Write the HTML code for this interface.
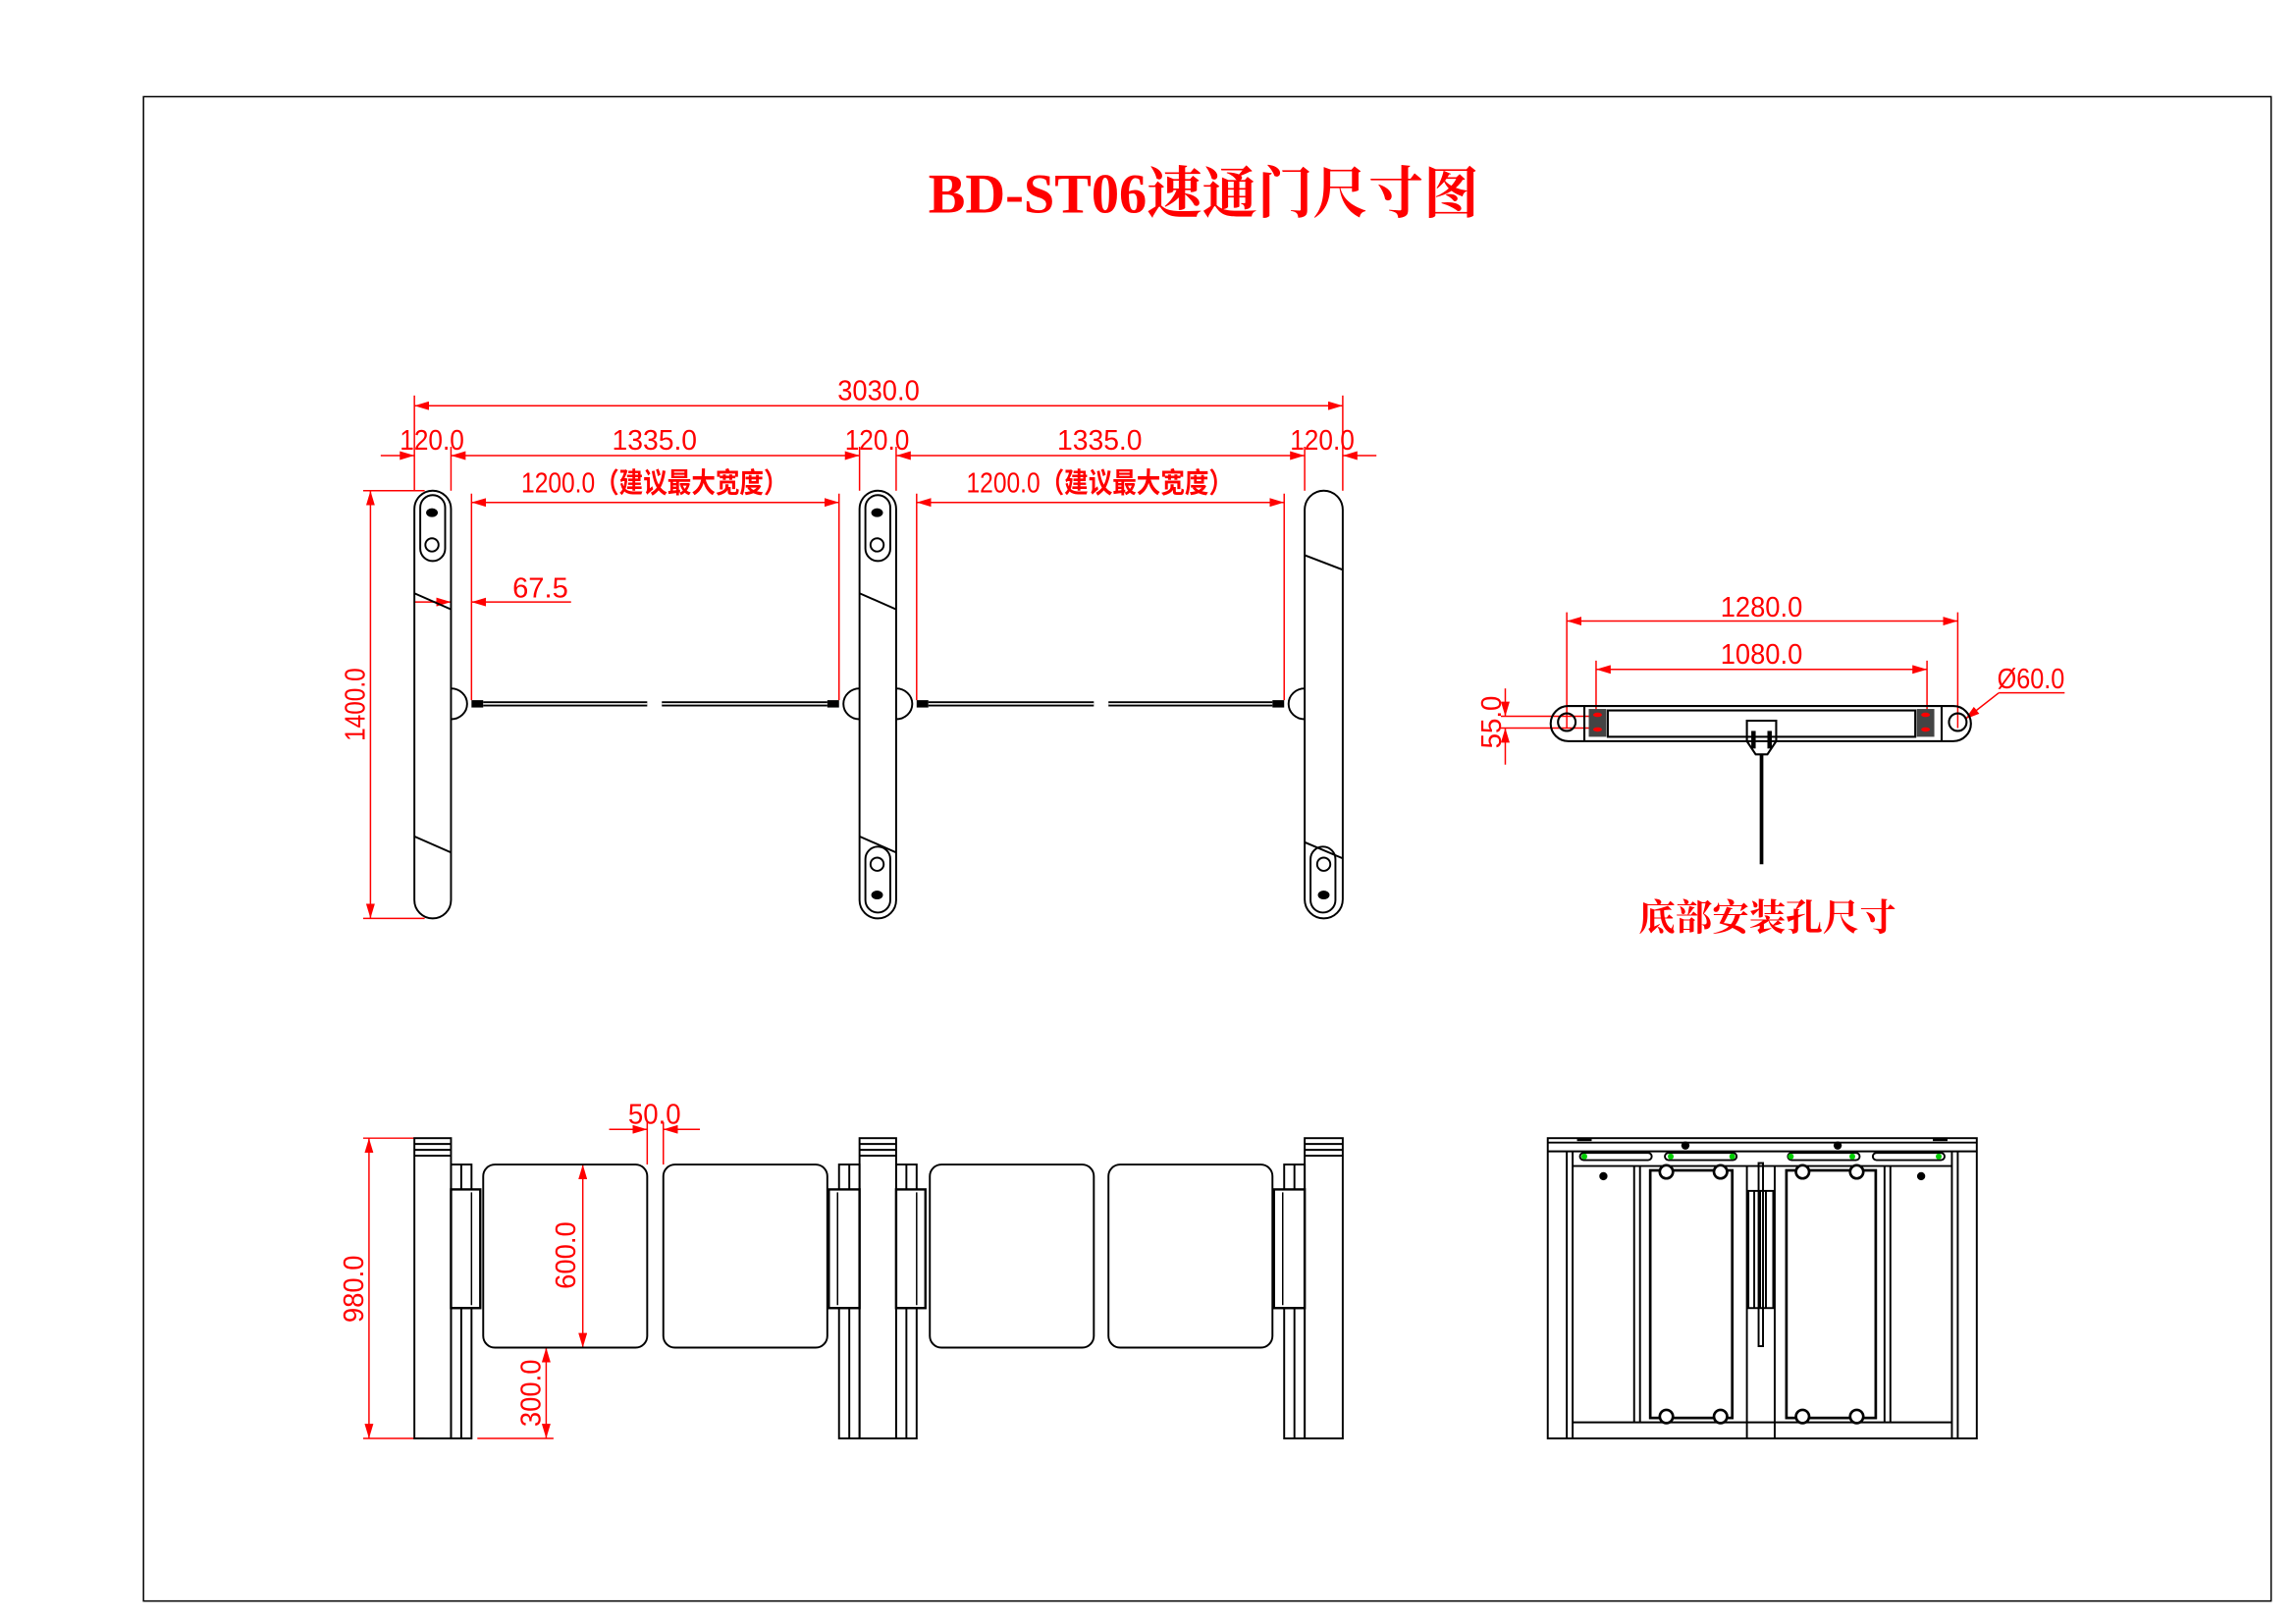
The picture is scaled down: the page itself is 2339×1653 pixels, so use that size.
<!DOCTYPE html>
<html><head><meta charset="utf-8"><style>html,body{margin:0;padding:0;background:#fff}svg{display:block}</style></head><body>
<svg width="2339" height="1653" viewBox="0 0 1568 1108" preserveAspectRatio="none" xmlns="http://www.w3.org/2000/svg">
<defs>
<marker id="a" viewBox="0 0 10 6" refX="10" refY="3" markerWidth="10" markerHeight="6" orient="auto-start-reverse" markerUnits="userSpaceOnUse"><path d="M0,0L10,3L0,6z" fill="#f00"/></marker>
</defs>
<rect x="98" y="66" width="1453" height="1027" fill="none" stroke="#000" stroke-width="1"/>
<text x="822" y="145" text-anchor="middle" font-family="'Liberation Serif','Noto Serif CJK SC',serif" font-weight="bold" font-size="38" fill="#f00" textLength="376" lengthAdjust="spacingAndGlyphs">BD-ST06速通门尺寸图</text>

<g font-family="'Liberation Sans Narrow','Liberation Sans',sans-serif" font-size="19" fill="#f00" text-anchor="middle">
<g stroke="#f00" stroke-width="1" fill="none">
<line x1="283" y1="277" x2="917" y2="277" marker-start="url(#a)" marker-end="url(#a)"/>
<line x1="283" y1="270" x2="283" y2="335"/><line x1="917" y1="270" x2="917" y2="335"/>
<line x1="308" y1="305" x2="308" y2="335"/><line x1="587" y1="305" x2="587" y2="335"/><line x1="612" y1="305" x2="612" y2="335"/><line x1="891" y1="305" x2="891" y2="335"/>
<line x1="260" y1="311" x2="283" y2="311" marker-end="url(#a)"/>
<line x1="308" y1="311" x2="587" y2="311" marker-start="url(#a)" marker-end="url(#a)"/>
<line x1="612" y1="311" x2="891" y2="311" marker-start="url(#a)" marker-end="url(#a)"/>
<line x1="940" y1="311" x2="917" y2="311" marker-end="url(#a)"/>
<line x1="322" y1="343" x2="573" y2="343" marker-start="url(#a)" marker-end="url(#a)"/>
<line x1="626" y1="343" x2="877" y2="343" marker-start="url(#a)" marker-end="url(#a)"/>
<line x1="322" y1="337" x2="322" y2="478"/><line x1="573" y1="337" x2="573" y2="478"/>
<line x1="626" y1="337" x2="626" y2="478"/><line x1="877" y1="337" x2="877" y2="478"/>
<line x1="283" y1="411" x2="308" y2="411" marker-end="url(#a)"/>
<line x1="390" y1="411" x2="322" y2="411" marker-end="url(#a)"/>
<line x1="253" y1="335" x2="253" y2="627" marker-start="url(#a)" marker-end="url(#a)"/>
<line x1="248" y1="335" x2="290" y2="335"/><line x1="248" y1="627" x2="290" y2="627"/>
</g>
<text x="600" y="273" textLength="56" lengthAdjust="spacingAndGlyphs">3030.0</text>
<text x="295" y="307" textLength="44" lengthAdjust="spacingAndGlyphs">120.0</text>
<text x="447" y="307" textLength="58" lengthAdjust="spacingAndGlyphs">1335.0</text>
<text x="599" y="307" textLength="44" lengthAdjust="spacingAndGlyphs">120.0</text>
<text x="751" y="307" textLength="58" lengthAdjust="spacingAndGlyphs">1335.0</text>
<text x="903" y="307" textLength="44" lengthAdjust="spacingAndGlyphs">120.0</text>
<text x="447" y="336" textLength="182" lengthAdjust="spacingAndGlyphs">1200.0<tspan font-family="'Liberation Sans','Noto Sans CJK SC',sans-serif" font-weight="bold">（建议最大宽度）</tspan></text>
<text x="751" y="336" textLength="182" lengthAdjust="spacingAndGlyphs">1200.0<tspan font-family="'Liberation Sans','Noto Sans CJK SC',sans-serif" font-weight="bold">（建议最大宽度）</tspan></text>
<text x="369" y="408" textLength="38" lengthAdjust="spacingAndGlyphs">67.5</text>
<text transform="translate(249,481) rotate(-90)" textLength="50" lengthAdjust="spacingAndGlyphs">1400.0</text>
</g>

<g stroke="#000" stroke-width="1.3" fill="none">
<rect x="283" y="335" width="25" height="292" rx="12.5"/>
<rect x="587" y="335" width="25" height="292" rx="12.5"/>
<rect x="891" y="335" width="26" height="292" rx="13"/>
<line x1="283" y1="405" x2="308" y2="416"/><line x1="283" y1="571" x2="308" y2="582"/>
<line x1="587" y1="405" x2="612" y2="416"/><line x1="587" y1="571" x2="612" y2="582"/>
<line x1="891" y1="379" x2="917" y2="389"/><line x1="891" y1="575" x2="917" y2="586"/>
<rect x="287" y="338" width="17" height="45" rx="8.5"/><circle cx="295" cy="372" r="4.5"/>
<rect x="591" y="338" width="17" height="45" rx="8.5"/><circle cx="599" cy="372" r="4.5"/>
<rect x="591" y="578" width="17" height="45" rx="8.5"/><circle cx="599" cy="590" r="4.5"/>
<rect x="895" y="578" width="17" height="45" rx="8.5"/><circle cx="904" cy="590" r="4.5"/>
<path d="M308,470 a11,10.5 0 0 1 0,21"/>
<path d="M587,470 a11,10.5 0 0 0 0,21"/><path d="M612,470 a11,10.5 0 0 1 0,21"/>
<path d="M891,470 a11,10.5 0 0 0 0,21"/>
</g>
<g fill="#000">
<ellipse cx="295" cy="350" rx="4" ry="3"/><ellipse cx="599" cy="350" rx="4" ry="3"/>
<ellipse cx="599" cy="611" rx="4" ry="3"/><ellipse cx="904" cy="611" rx="4" ry="3"/>
<rect x="322" y="478" width="8" height="5"/><rect x="565" y="478" width="8" height="5"/>
<rect x="626" y="478" width="8" height="5"/><rect x="869" y="478" width="8" height="5"/>
</g>
<g stroke="#000" stroke-width="3.5">
<line x1="330" y1="480.5" x2="442" y2="480.5"/><line x1="452" y1="480.5" x2="565" y2="480.5"/>
<line x1="634" y1="480.5" x2="747" y2="480.5"/><line x1="757" y1="480.5" x2="869" y2="480.5"/>
</g>
<g stroke="#fff" stroke-width="1"><line x1="330" y1="480.5" x2="442" y2="480.5"/><line x1="452" y1="480.5" x2="565" y2="480.5"/><line x1="634" y1="480.5" x2="747" y2="480.5"/><line x1="757" y1="480.5" x2="869" y2="480.5"/></g>

<g stroke="#f00" stroke-width="1" fill="none">
<line x1="1070" y1="424" x2="1337" y2="424" marker-start="url(#a)" marker-end="url(#a)"/>
<line x1="1090" y1="457" x2="1316" y2="457" marker-start="url(#a)" marker-end="url(#a)"/>
<line x1="1070" y1="418" x2="1070" y2="497"/><line x1="1337" y1="418" x2="1337" y2="497"/>
<line x1="1090" y1="451" x2="1090" y2="492"/><line x1="1316" y1="451" x2="1316" y2="492"/>
<line x1="1028" y1="470" x2="1028" y2="489" marker-end="url(#a)"/>
<line x1="1028" y1="522" x2="1028" y2="497" marker-end="url(#a)"/>
<line x1="1025" y1="489" x2="1092" y2="489"/><line x1="1025" y1="497" x2="1092" y2="497"/>
<line x1="1410" y1="473" x2="1365" y2="473"/><line x1="1365" y1="473" x2="1342" y2="491" marker-end="url(#a)"/>
</g>
<g stroke="#000" stroke-width="1.4" fill="none">
<path d="M1071,482 H1334 a12,12 0 0 1 0,24 H1071 a12,12 0 0 1 0,-24z"/>
<line x1="1082" y1="482" x2="1082" y2="506"/><line x1="1326" y1="482" x2="1326" y2="506"/>
<rect x="1098" y="485" width="210" height="18"/>
<circle cx="1070" cy="493" r="6"/><circle cx="1337" cy="493" r="6"/>
<path d="M1193,492 h20 v14 l-6,9 h-8 l-6,-9z"/>
<line x1="1203" y1="515" x2="1203" y2="590" stroke-width="2.5"/>
</g>
<g fill="#444"><rect x="1085" y="484" width="12" height="19"/><rect x="1309" y="484" width="12" height="19"/></g>
<g fill="#f00"><ellipse cx="1091" cy="488" rx="3" ry="1.5"/><ellipse cx="1091" cy="498" rx="3" ry="1.5"/><ellipse cx="1315" cy="488" rx="3" ry="1.5"/><ellipse cx="1315" cy="498" rx="3" ry="1.5"/></g>
<g fill="#000"><rect x="1196" y="499" width="3" height="12"/><rect x="1207" y="499" width="3" height="12"/></g>
<g font-family="'Liberation Sans Narrow','Liberation Sans',sans-serif" font-size="19" fill="#f00" text-anchor="middle">
<text x="1203" y="421" textLength="56" lengthAdjust="spacingAndGlyphs">1280.0</text>
<text x="1203" y="453" textLength="56" lengthAdjust="spacingAndGlyphs">1080.0</text>
<text x="1387" y="470" textLength="46" lengthAdjust="spacingAndGlyphs">Ø60.0</text>
<text transform="translate(1025,493) rotate(-90)" textLength="36" lengthAdjust="spacingAndGlyphs">55.0</text>
</g>
<text x="1207" y="635" text-anchor="middle" font-family="'Liberation Serif','Noto Serif CJK SC',serif" font-weight="bold" font-size="25" fill="#f00" textLength="176" lengthAdjust="spacingAndGlyphs">底部安装孔尺寸</text>

<g stroke="#f00" stroke-width="1" fill="none">
<line x1="252" y1="777" x2="252" y2="982" marker-start="url(#a)" marker-end="url(#a)"/>
<line x1="248" y1="777" x2="283" y2="777"/><line x1="248" y1="982" x2="290" y2="982"/>
<line x1="416" y1="771" x2="442" y2="771" marker-end="url(#a)"/>
<line x1="478" y1="771" x2="453" y2="771" marker-end="url(#a)"/>
<line x1="442" y1="766" x2="442" y2="795"/><line x1="453" y1="766" x2="453" y2="795"/>
<line x1="398" y1="795" x2="398" y2="920" marker-start="url(#a)" marker-end="url(#a)"/>
<line x1="373" y1="920" x2="373" y2="982" marker-start="url(#a)" marker-end="url(#a)"/>
<line x1="326" y1="982" x2="378" y2="982"/>
</g>
<g font-family="'Liberation Sans Narrow','Liberation Sans',sans-serif" font-size="19" fill="#f00" text-anchor="middle">
<text x="447" y="767" textLength="36" lengthAdjust="spacingAndGlyphs">50.0</text>
<text transform="translate(248,880) rotate(-90)" textLength="46" lengthAdjust="spacingAndGlyphs">980.0</text>
<text transform="translate(393,857) rotate(-90)" textLength="46" lengthAdjust="spacingAndGlyphs">600.0</text>
<text transform="translate(369,951) rotate(-90)" textLength="46" lengthAdjust="spacingAndGlyphs">300.0</text>
</g>
<g stroke="#000" stroke-width="1.3" fill="none">
<rect x="330" y="795" width="112" height="125" rx="8"/>
<rect x="453" y="795" width="112" height="125" rx="8"/>
<rect x="635" y="795" width="112" height="125" rx="8"/>
<rect x="757" y="795" width="112" height="125" rx="8"/>
<rect x="283" y="777" width="25" height="205"/><line x1="283" y1="781" x2="308" y2="781"/><line x1="283" y1="785" x2="308" y2="785"/><line x1="283" y1="789" x2="308" y2="789"/>
<rect x="587" y="777" width="25" height="205"/><line x1="587" y1="781" x2="612" y2="781"/><line x1="587" y1="785" x2="612" y2="785"/><line x1="587" y1="789" x2="612" y2="789"/>
<rect x="891" y="777" width="26" height="205"/><line x1="891" y1="781" x2="917" y2="781"/><line x1="891" y1="785" x2="917" y2="785"/><line x1="891" y1="789" x2="917" y2="789"/>
<rect x="308" y="795" width="14" height="187"/><line x1="315" y1="795" x2="315" y2="982"/>
<rect x="573" y="795" width="14" height="187"/><line x1="580" y1="795" x2="580" y2="982"/>
<rect x="612" y="795" width="14" height="187"/><line x1="619" y1="795" x2="619" y2="982"/>
<rect x="877" y="795" width="14" height="187"/><line x1="884" y1="795" x2="884" y2="982"/>
</g>
<g stroke="#000" stroke-width="1.6" fill="#fff">
<rect x="308" y="812" width="20" height="81"/><rect x="566" y="812" width="21" height="81"/>
<rect x="612" y="812" width="20" height="81"/><rect x="870" y="812" width="21" height="81"/>
</g>
<g stroke="#000" stroke-width="1" fill="none">
<line x1="322" y1="814" x2="322" y2="891"/><line x1="572" y1="814" x2="572" y2="891"/>
<line x1="626" y1="814" x2="626" y2="891"/><line x1="876" y1="814" x2="876" y2="891"/>
</g>

<g stroke="#000" stroke-width="1.3" fill="none">
<rect x="1057" y="777" width="293" height="205"/>
<line x1="1057" y1="780" x2="1350" y2="780"/><line x1="1057" y1="786" x2="1350" y2="786"/>
<line x1="1074" y1="786" x2="1074" y2="982"/><line x1="1070" y1="786" x2="1070" y2="982"/>
<line x1="1333" y1="786" x2="1333" y2="982"/><line x1="1337" y1="786" x2="1337" y2="982"/>
<line x1="1074" y1="796" x2="1333" y2="796"/>
<line x1="1074" y1="971" x2="1333" y2="971"/>
<line x1="1116" y1="796" x2="1116" y2="971"/><line x1="1120" y1="796" x2="1120" y2="971"/>
<line x1="1287" y1="796" x2="1287" y2="971"/><line x1="1291" y1="796" x2="1291" y2="971"/>
<line x1="1193" y1="796" x2="1193" y2="982"/><line x1="1212" y1="796" x2="1212" y2="982"/>
<rect x="1079" y="787" width="49" height="5" rx="2.5"/><rect x="1137" y="787" width="49" height="5" rx="2.5"/>
<rect x="1221" y="787" width="49" height="5" rx="2.5"/><rect x="1279" y="787" width="49" height="5" rx="2.5"/>
<rect x="1127" y="799" width="56" height="169" stroke-width="1.8"/>
<rect x="1220" y="799" width="61" height="169" stroke-width="1.8"/>
<rect x="1194" y="813" width="17" height="80"/>
<line x1="1198" y1="813" x2="1198" y2="893"/><line x1="1202" y1="813" x2="1202" y2="893"/><line x1="1206" y1="813" x2="1206" y2="893"/>
<rect x="1201" y="794" width="3" height="125"/>
</g>
<g stroke="#000" stroke-width="1.8" fill="#fff">
<circle cx="1138" cy="800" r="4.5"/><circle cx="1175" cy="800" r="4.5"/><circle cx="1231" cy="800" r="4.5"/><circle cx="1268" cy="800" r="4.5"/>
<circle cx="1138" cy="967" r="4.5"/><circle cx="1175" cy="967" r="4.5"/><circle cx="1231" cy="967" r="4.5"/><circle cx="1268" cy="967" r="4.5"/>
</g>
<g fill="#000"><circle cx="1151" cy="782" r="2.8"/><circle cx="1255" cy="782" r="2.8"/><circle cx="1095" cy="803" r="2.8"/><circle cx="1312" cy="803" r="2.8"/>
<rect x="1077" y="777" width="10" height="2"/><rect x="1320" y="777" width="10" height="2"/></g>
<g fill="#0c0"><circle cx="1082" cy="789.5" r="2"/><circle cx="1141" cy="789.5" r="2"/><circle cx="1183" cy="789.5" r="2"/><circle cx="1223" cy="789.5" r="2"/><circle cx="1265" cy="789.5" r="2"/><circle cx="1324" cy="789.5" r="2"/></g>
</svg>
</body></html>
